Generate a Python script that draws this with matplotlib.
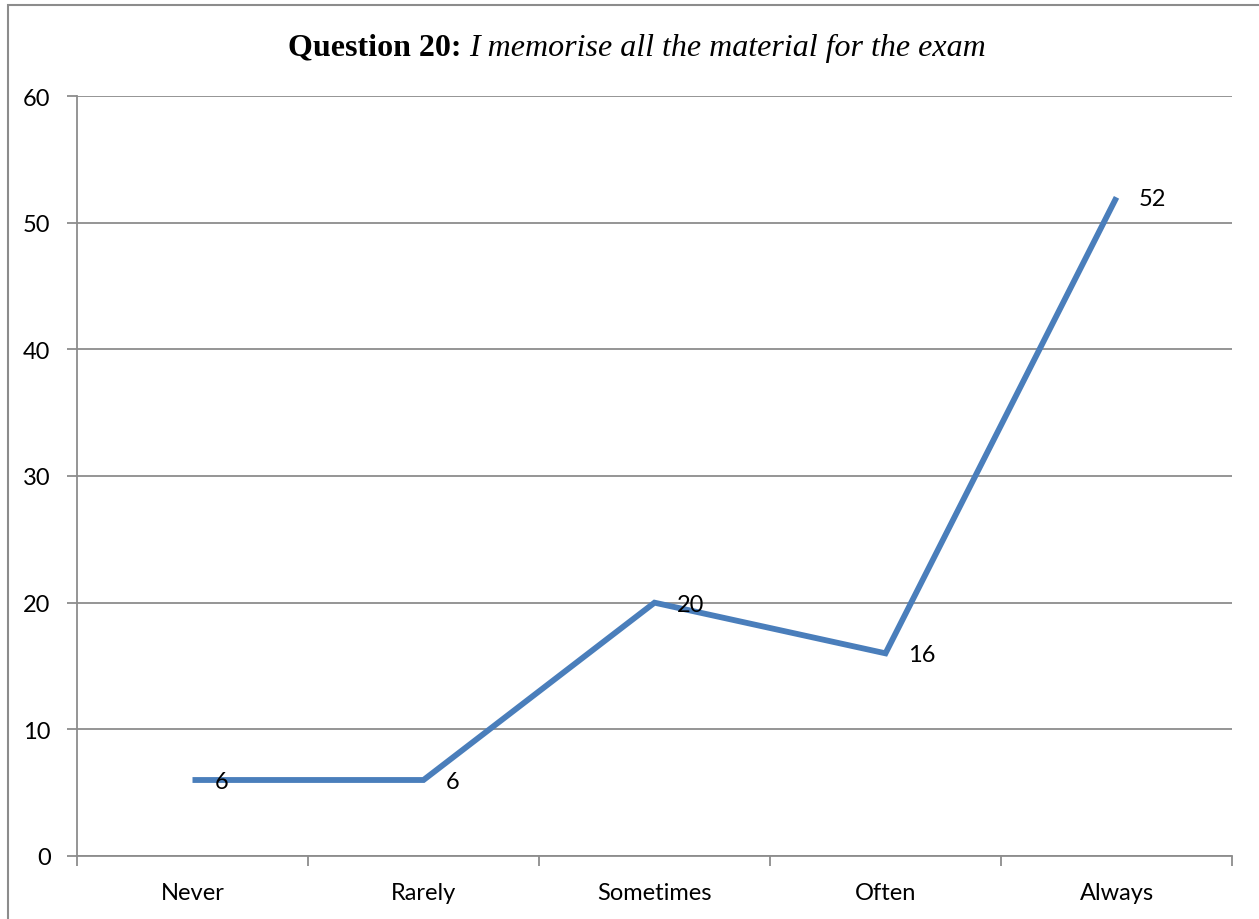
import matplotlib
matplotlib.use("Agg")
import matplotlib.pyplot as plt
from matplotlib.patches import Rectangle

categories = ["Never", "Rarely", "Sometimes", "Often", "Always"]
values = [6, 6, 20, 16, 52]
y_ticks = [0, 10, 20, 30, 40, 50, 60]

fig = plt.figure(figsize=(12.59, 9.2), dpi=100)
W, H = 1259, 920
ax = fig.add_axes([77 / W, 1 - 857 / H, (1232 - 77) / W, (857 - 97) / H])

x = list(range(len(categories)))
ax.plot(x, values, color="#4a7ebb", linewidth=4.2, solid_capstyle="butt",
        solid_joinstyle="miter", zorder=3)
for xi, v in zip(x, values):
    ax.annotate(str(v), (xi, v), xytext=(16, -1), textcoords="offset points",
                ha="left", va="center", fontsize=17, family="Lato", zorder=4)

ax.set_xlim(-0.5, len(categories) - 0.5)
ax.set_ylim(0, 60)
ax.set_yticks(y_ticks)
ax.set_yticklabels([str(t) for t in y_ticks], family="Lato", fontsize=17)
ax.set_xticks(x)
ax.set_xticklabels(categories, family="Lato", fontsize=17)
ax.set_xticks([i - 0.5 for i in range(len(categories) + 1)], minor=True)
ax.tick_params(axis="x", which="major", length=0, pad=19)
ax.tick_params(axis="x", which="minor", length=7, color="#8c8c8c", width=1.3)
ax.tick_params(axis="y", length=7, color="#8c8c8c", width=1.3, pad=12)
ax.grid(axis="y", color="#8c8c8c", linewidth=1.3)
ax.set_axisbelow(True)
for s in ["top", "right"]:
    ax.spines[s].set_visible(False)
for s in ["left", "bottom"]:
    ax.spines[s].set_color("#8c8c8c")
    ax.spines[s].set_linewidth(1.3)

# title: bold part + italic part
t1 = fig.text(288 / W, 1 - 48 / H, "Question 20: ", family="Liberation Serif",
              fontweight="bold", fontsize=23, ha="left", va="center")
fig.canvas.draw()
bb = t1.get_window_extent()
fig.text(bb.x1 / W, 1 - 48 / H, "I memorise all the material for the exam",
         family="Liberation Serif", style="italic", fontsize=23, ha="left", va="center")

# outer chart border
fig.patches.append(Rectangle((8 / W, -0.05), 1.1, 1 - 6 / H + 0.05,
                             transform=fig.transFigure, fill=False,
                             edgecolor="#8c8c8c", linewidth=1.5))

fig.savefig("out.png", dpi=100)
